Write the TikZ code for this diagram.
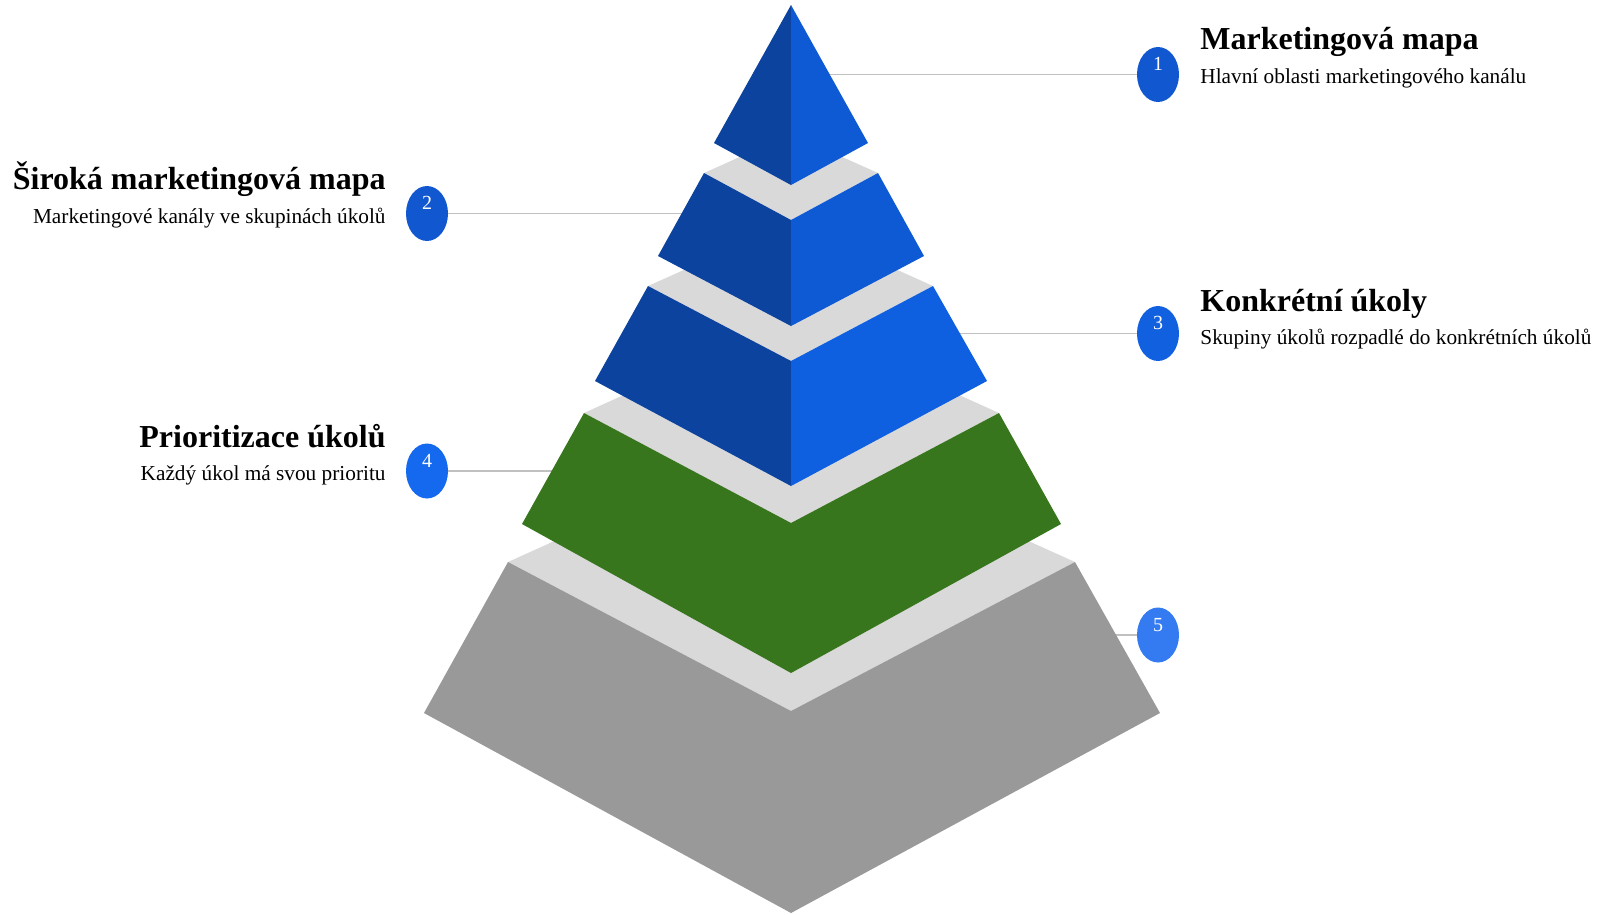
\documentclass[tikz,border=0pt]{standalone}
\usepackage{fontspec}
\setmainfont{Liberation Serif}
\usetikzlibrary{shapes.geometric}
\definecolor{blueL}{HTML}{0B439E}
\definecolor{blueR}{HTML}{0D5AD4}
\definecolor{blueRR}{HTML}{0E60E0}
\definecolor{grn}{HTML}{38761D}
\definecolor{stone}{HTML}{999999}
\definecolor{topgray}{HTML}{D9D9D9}
\definecolor{linegray}{HTML}{C0C0C0}
\definecolor{dotA}{HTML}{1157D0}
\definecolor{dotB}{HTML}{1160E0}
\definecolor{dotC}{HTML}{1469EE}
\definecolor{dotD}{HTML}{347BF2}
\tikzset{
x=1pt, y=-1pt,
dot/.style={ellipse, minimum width=42pt, minimum height=55pt, inner sep=0pt},
num/.style={font=\fontsize{20}{22}\selectfont, text=white, inner sep=0pt, anchor=base},
ttl/.style={font=\fontsize{32}{36}\selectfont\bfseries, inner sep=0pt},
sub/.style={font=\fontsize{21.3}{24}\selectfont, inner sep=0pt},
link/.style={draw=linegray, line width=1.5pt},
}

\begin{document}
\begin{tikzpicture}
        \useasboundingbox (0,0) rectangle (1611,914);

        \node[dot, fill=dotA] (c1) at (1158,74.5) {};
        \node[dot, fill=dotA] (c2) at (427,213.5) {};
        \node[dot, fill=dotB] (c3) at (1158,333.5) {};
        \node[dot, fill=dotC] (c4) at (427,471) {};
        \node[dot, fill=dotD] (c5) at (1158,635) {};

        \coordinate (p1) at (791,74.5);
        \coordinate (p2) at (791,213.5);
        \coordinate (p3) at (791,333.5);
        \coordinate (p4) at (791,471);
        \coordinate (p5) at (791,635);

        \draw[link] (p1) -- (c1);
        \draw[link] (p2) -- (c2);
        \draw[link] (p3) -- (c3);
        \draw[link] (p4) -- (c4);
        \draw[link] (p5) -- (c5);

        \fill[topgray] (508,562) -- (791,434) -- (1075,562) -- (791,711) -- cycle;
        \fill[stone] (508,562) -- (791,711) -- (791,913) -- (424,713) -- cycle;
        \fill[stone] (1075,562) -- (791,711) -- (791,913) -- (1160,713) -- cycle;

        \fill[topgray] (584,413) -- (791,319) -- (999,413) -- (791,523) -- cycle;
        \fill[grn] (584,413) -- (791,523) -- (791,673) -- (522,524) -- cycle;
        \fill[grn] (999,413) -- (791,523) -- (791,673) -- (1061,524) -- cycle;

        \fill[topgray] (648,286) -- (791,222) -- (933,286) -- (791,361) -- cycle;
        \fill[blueL] (648,286) -- (791,361) -- (791,486) -- (595,381) -- cycle;
        \fill[blueRR] (933,286) -- (791,361) -- (791,486) -- (987,381) -- cycle;

        \fill[topgray] (704,173) -- (791,134) -- (878,173) -- (791,220) -- cycle;
        \fill[blueL] (704,173) -- (791,220) -- (791,326) -- (658,256) -- cycle;
        \fill[blueR] (878,173) -- (791,220) -- (791,326) -- (924,256) -- cycle;

        \fill[blueL] (791,5) -- (791,185) -- (714,143) -- cycle;
        \fill[blueR] (791,5) -- (791,185) -- (868,143) -- cycle;

        \node[num] (n1) at ([yshift=4pt]c1.center) {1};
        \node[num] (n2) at ([yshift=4pt]c2.center) {2};
        \node[num] (n3) at ([yshift=4pt]c3.center) {3};
        \node[num] (n4) at ([yshift=4pt]c4.center) {4};
        \node[num] (n5) at ([yshift=4pt]c5.center) {5};

        \node[sub, anchor=base west] (s1) at ([xshift=21pt,yshift=-8.5pt]c1.east) {Hlavní oblasti marketingového kanálu};
        \node[ttl, anchor=base west] (t1) at ([yshift=33.5pt]s1.base west) {Marketingová mapa};
        \node[sub, anchor=base east] (s2) at ([xshift=-20pt,yshift=-9.5pt]c2.west) {Marketingové kanály ve skupinách úkolů};
        \node[ttl, anchor=base east] (t2) at ([yshift=34pt]s2.base east) {Široká marketingová mapa};
        \node[sub, anchor=base west] (s3) at ([xshift=21pt,yshift=-10.5pt]c3.east) {Skupiny úkolů rozpadlé do konkrétních úkolů};
        \node[ttl, anchor=base west] (t3) at ([yshift=32.5pt]s3.base west) {Konkrétní úkoly};
        \node[sub, anchor=base east] (s4) at ([xshift=-20pt,yshift=-9pt]c4.west) {Každý úkol má svou prioritu};
        \node[ttl, anchor=base east] (t4) at ([yshift=33pt]s4.base east) {Prioritizace úkolů};
    \end{tikzpicture}
\end{document}
